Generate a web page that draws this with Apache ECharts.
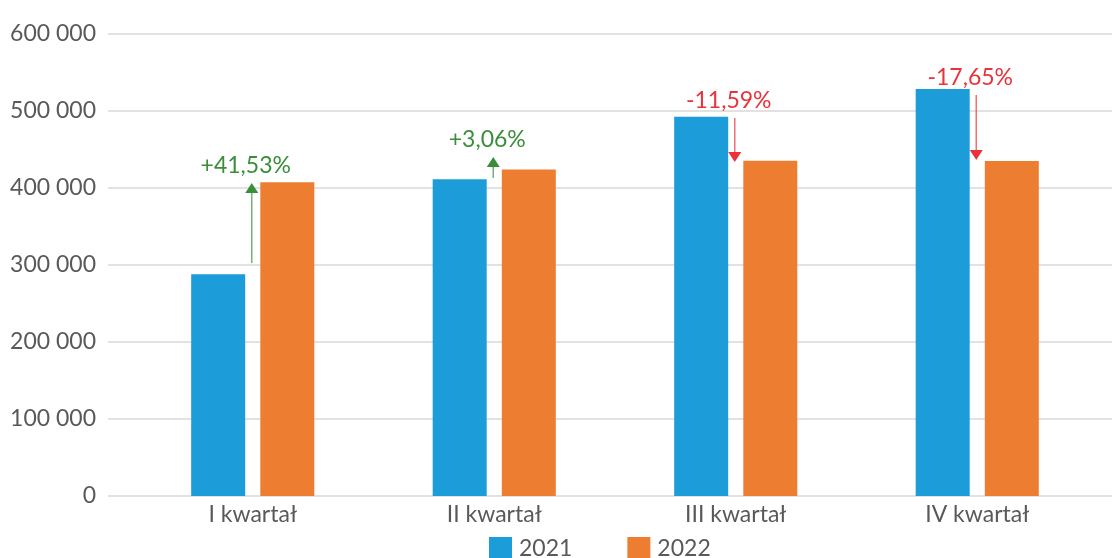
<!DOCTYPE html>
<html>
<head>
<meta charset="utf-8">
<script src="https://cdn.jsdelivr.net/npm/echarts@6/dist/echarts.min.js"></script>
<style>
  html, body { margin: 0; padding: 0; background: #fff; }
  #chart { width: 1112px; height: 558px; }
</style>
</head>
<body>
<div id="chart"></div>
<script>
// dane kwartalne
var categories = ['I kwartał', 'II kwartał', 'III kwartał', 'IV kwartał'];
var v2021 = [288000, 411500, 492500, 528500];
var v2022 = [407600, 424100, 435400, 435200];
var changeLabels = ['+41,53%', '+3,06%', '-11,59%', '-17,65%'];
// początek i koniec strzałek (wartości na osi Y)
var arrowFrom = [302600, 413000, 490900, 520800];
var arrowTo = [406500, 440300, 433800, 436400];
var yTicks = [0, 100000, 200000, 300000, 400000, 500000, 600000];

var FONT = 'Lato';
var GREEN = '#3A8E3A', RED = '#E8333B';

function fmt(v) {
    return String(v).replace(/\B(?=(\d{3})+(?!\d))/g, ' ');
}

var myChart = echarts.init(document.getElementById('chart'));

var option = {
    animation: false,
    legend: {
        data: ['2021', '2022'],
        left: 489,
        top: 537,
        padding: 0,
        itemWidth: 23,
        itemHeight: 23,
        itemGap: 55,
        icon: 'rect',
        textStyle: { fontFamily: FONT, fontSize: 23, color: '#595959', padding: [2, 0, 0, 2] }
    },
    grid: [
        { left: 108, right: 0, top: 34, bottom: 62 },   // linie siatki + oś Y
        { left: 132, right: 14, top: 34, bottom: 62 }   // słupki
    ],
    xAxis: [
        { type: 'category', gridIndex: 0, data: categories, show: false },
        {
            type: 'category', gridIndex: 1, data: categories,
            axisLine: { show: false },
            axisTick: { show: false },
            axisLabel: { fontFamily: FONT, fontSize: 23, color: '#595959', margin: 7 }
        }
    ],
    yAxis: [
        {
            type: 'value', gridIndex: 0,
            min: yTicks[0], max: yTicks[yTicks.length - 1], interval: 100000,
            axisLine: { show: false },
            axisTick: { show: false },
            splitLine: { lineStyle: { color: '#D9D9D9', width: 1.5 } },
            axisLabel: {
                fontFamily: FONT, fontSize: 23, color: '#595959', margin: 12,
                formatter: fmt
            }
        },
        {
            type: 'value', gridIndex: 1,
            min: yTicks[0], max: yTicks[yTicks.length - 1], interval: 100000,
            show: false
        }
    ],
    series: [
        {
            name: '2021', type: 'bar', xAxisIndex: 1, yAxisIndex: 1,
            data: v2021, barWidth: 54, barGap: '28%',
            itemStyle: { color: '#1C9CD8' }
        },
        {
            name: '2022', type: 'bar', xAxisIndex: 1, yAxisIndex: 1,
            data: v2022, barWidth: 54,
            itemStyle: { color: '#ED7D31' }
        },
        {
            type: 'custom', xAxisIndex: 1, yAxisIndex: 1,
            clip: false, silent: true,
            data: categories.map(function (c, i) { return [i, arrowFrom[i], arrowTo[i]]; }),
            renderItem: function (params, api) {
                var i = api.value(0);
                var p1 = api.coord([i, api.value(1)]);
                var p2 = api.coord([i, api.value(2)]);
                var up = p2[1] < p1[1];
                var color = up ? GREEN : RED;
                var x = p1[0] - 1;
                var headH = 10, headW = 6.5;
                var base = up ? p2[1] + headH : p2[1] - headH;
                var topY = Math.min(p1[1], p2[1]);
                return {
                    type: 'group',
                    children: [
                        {
                            type: 'line',
                            shape: { x1: x, y1: p1[1], x2: x, y2: base },
                            style: { stroke: color, lineWidth: 1.5, opacity: 0.7 }
                        },
                        {
                            type: 'polygon',
                            shape: { points: [[x, p2[1]], [x - headW, base], [x + headW, base]] },
                            style: { fill: color }
                        },
                        {
                            type: 'text',
                            x: x - 6,
                            y: topY - 17,
                            style: {
                                text: changeLabels[params.dataIndex],
                                fill: color,
                                font: '23px ' + FONT,
                                align: 'center',
                                verticalAlign: 'middle'
                            }
                        }
                    ]
                };
            }
        }
    ]
};
myChart.setOption(option);
</script>
</body>
</html>
